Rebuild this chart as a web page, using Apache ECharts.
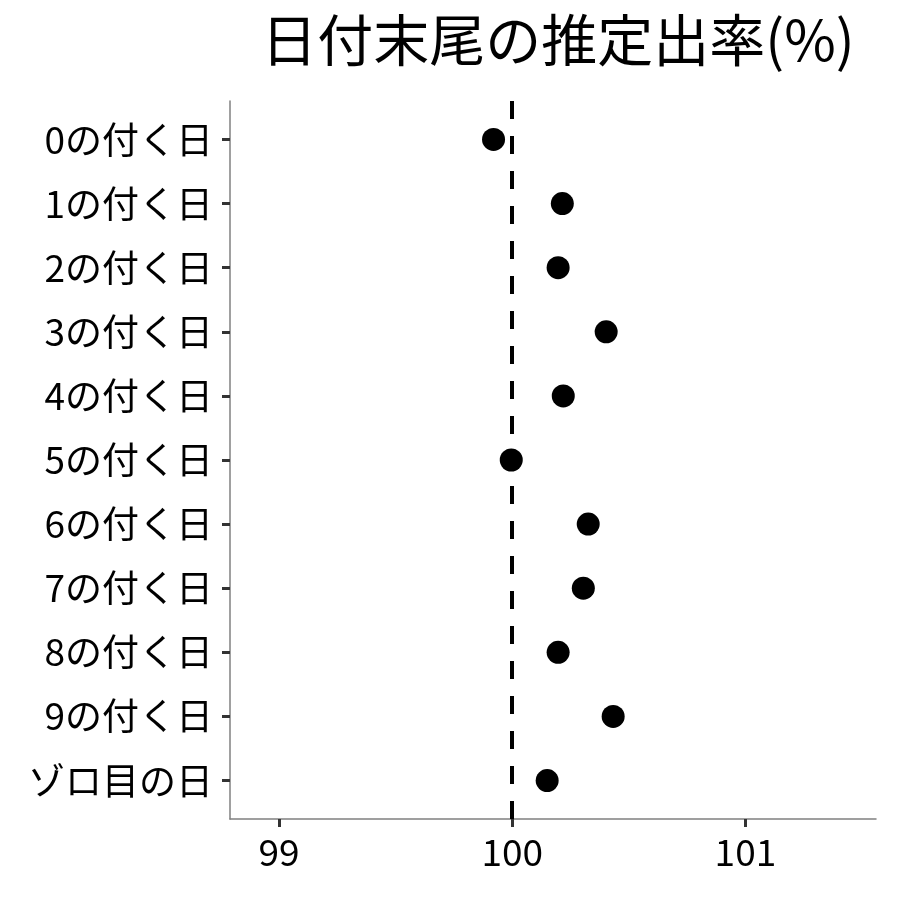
<!DOCTYPE html>
<html>
	<head>
		<meta charset="utf-8">
		<title>日付末尾の推定出率(%)</title>
		<style type="text/css">
			html, body {
				margin: 0;
				padding: 0;
				background: #fff;
			}

			#chart {
				width: 900px;
				height: 900px;
			}
		</style>
	</head>
	<body>
		<div id="chart"></div>

		<script src="https://cdn.jsdelivr.net/npm/echarts@6/dist/echarts.min.js"></script>
		<script>
			// データ
			var categories = ['0の付く日', '1の付く日', '2の付く日', '3の付く日', '4の付く日', '5の付く日',
				'6の付く日', '7の付く日', '8の付く日', '9の付く日', 'ゾロ目の日'];
			var rates = [99.92, 100.215, 100.197, 100.403, 100.219, 99.996, 100.326, 100.305, 100.197, 100.433, 100.15];
			var xTicks = [99, 100, 101];
			var refValue = 100;

			var font = '"Noto Sans CJK JP", "Noto Sans", sans-serif';

			var points = rates.map(function(v, i) {
				return [v, i];
			});
			var yTicks = categories.map(function(c, i) {
				return i;
			});

			var myChart = echarts.init(document.getElementById('chart'));

			var option = {
				animation: false,
				title: {
					text: '日付末尾の推定出率(%)',
					left: 553,
					top: 7,
					textAlign: 'center',
					textStyle: {
						fontFamily: font,
						fontSize: 56,
						fontWeight: 'normal',
						color: '#000'
					}
				},
				grid: {
					left: 230,
					right: 24,
					top: 101,
					bottom: 81
				},
				xAxis: {
					type: 'value',
					min: 98.79,
					max: 101.56,
					axisLine: {
						onZero: false,
						lineStyle: {
							color: '#808080',
							width: 1.5
						}
					},
					axisTick: {
						customValues: xTicks,
						length: 8,
						lineStyle: {
							color: '#333',
							width: 3
						}
					},
					axisLabel: {
						customValues: xTicks,
						margin: 14,
						color: '#000',
						fontFamily: font,
						fontSize: 37
					},
					splitLine: {
						show: false
					}
				},
				yAxis: {
					type: 'value',
					min: -0.6,
					max: 10.6,
					inverse: true,
					axisLine: {
						show: true,
						onZero: false,
						lineStyle: {
							color: '#808080',
							width: 1.5
						}
					},
					axisTick: {
						show: true,
						customValues: yTicks,
						length: 8,
						lineStyle: {
							color: '#333',
							width: 3
						}
					},
					axisLabel: {
						customValues: yTicks,
						margin: 17,
						color: '#000',
						fontFamily: font,
						fontSize: 37,
						formatter: function(v) {
							return categories[Math.round(v)];
						}
					},
					splitLine: {
						show: false
					}
				},
				series: [{
					type: 'scatter',
					data: points,
					symbolSize: 23,
					itemStyle: {
						color: '#000',
						opacity: 1
					},
					markLine: {
						silent: true,
						symbol: 'none',
						label: {
							show: false
						},
						lineStyle: {
							color: '#000',
							width: 4,
							type: [18, 17]
						},
						data: [{
							xAxis: refValue
						}]
					},
					z: 3
				}]
			};

			myChart.setOption(option);
		</script>
	</body>
</html>
